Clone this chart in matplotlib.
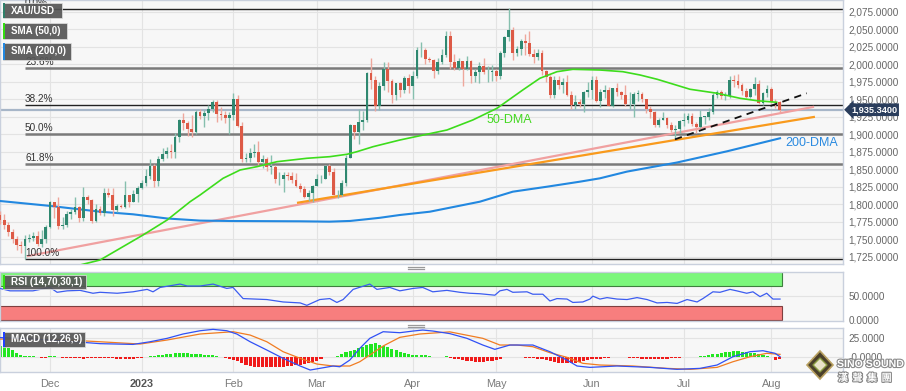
import numpy as np
import pandas as pd
import matplotlib
matplotlib.use('Agg')
import matplotlib.pyplot as plt
from matplotlib.patches import Rectangle, Polygon
import matplotlib.patheffects as pe
import matplotlib.transforms as mtrans

plt.rcParams['font.family'] = ['Liberation Sans', 'DejaVu Sans', 'Noto Sans CJK SC']

# ---------------- DATA ----------------
start_date = '2022-11-15'
end_date = '2023-08-03'

opens = [1785,1778,1770,1760,1750,1742,1741,1750,1752,1755,1743,1750,
         1768,1803,1797,1769,1771,1786,1789,1797,1781,1810,1807,1777,1793,1788,1817,1814,1792,1798,1797,1813,1804,1815,
         1824,1830,1840,1855,1833,1865,1872,1877,1875,1897,1920,1916,1908,1904,1932,1926,1931,1937,1946,1929,1928,1923,
         1928,1950,1912,1865,1867,1873,1875,1861,1865,1854,1854,1836,1836,1842,1841,1835,1826,1822,1811,1817,
         1827,1836,1836,1855,1847,1813,1814,1831,1867,1913,1904,1918,1920,1988,1978,1940,1969,1993,1977,1956,1973,1964,1980,
         1969,1984,2020,2021,2008,2007,1990,2003,2014,2040,2004,1995,2005,1994,2005,1983,1989,1998,1989,1989,
         1990,1983,2017,2039,2049,2017,2022,2034,2030,2015,2011,2017,1990,1982,1957,1978,1971,1975,1957,1942,1946,1943,1960,
         1963,1978,1948,1961,1963,1940,1966,1961,1957,1943,1943,1958,1958,1950,1936,1932,1913,1921,1923,1914,1907,1908,
         1919,1921,1926,1915,1911,1925,1925,1932,1957,1961,1955,1955,1978,1977,1970,1962,1954,1965,1972,1945,1959,
         1965,1947,1946]
highs = [1790,1786,1775,1765,1755,1748,1757,1758,1760,1762,1763,1770,
         1805,1804,1810,1782,1790,1794,1810,1798,1825,1814,1808,1800,1798,1823,1823,1823,1801,1800,1833,1814,1820,1827,
         1835,1850,1865,1858,1869,1881,1882,1886,1902,1922,1930,1919,1928,1935,1937,1935,1942,1949,1949,1939,1933,1932,
         1959,1956,1918,1874,1880,1886,1890,1870,1868,1870,1857,1846,1846,1846,1846,1845,1830,1827,1821,1828,
         1843,1842,1857,1858,1852,1820,1835,1870,1915,1914,1937,1933,1989,2009,1983,1975,2003,2004,1979,1974,1975,1984,1987,
         1990,2025,2032,2024,2011,2008,2009,2022,2048,2048,2015,2009,2005,2012,2006,1994,2003,2009,1998,1999,
         1993,2019,2041,2081,2054,2026,2036,2043,2048,2022,2022,2020,1992,1985,1984,1984,1980,1985,1962,1957,1951,1962,1975,
         1983,1983,1965,1970,1968,1967,1973,1962,1971,1960,1960,1963,1960,1951,1940,1933,1923,1932,1925,1918,1913,1920,
         1930,1930,1930,1918,1935,1927,1938,1959,1963,1964,1961,1983,1985,1987,1973,1966,1966,1982,1978,1960,1970,
         1968,1950,1948]
lows = [1772,1765,1755,1745,1735,1730,1722,1746,1748,1740,1739,1745,
        1767,1781,1765,1765,1768,1779,1786,1775,1777,1800,1773,1775,1785,1783,1810,1784,1789,1795,1795,1796,1803,1804,
        1822,1827,1837,1825,1826,1862,1866,1867,1867,1889,1907,1898,1896,1901,1922,1911,1920,1932,1918,1921,1916,1900,
        1920,1911,1861,1860,1860,1868,1856,1852,1848,1843,1830,1828,1818,1835,1831,1825,1818,1809,1805,1804,
        1826,1830,1836,1842,1813,1809,1812,1827,1866,1894,1886,1907,1918,1965,1934,1935,1963,1960,1945,1949,1954,1959,1959,
        1950,1980,2011,2000,2003,1981,1987,2000,2011,1993,1992,1992,1969,1992,1973,1975,1974,1986,1975,1977,
        1976,1979,2010,2034,2006,2012,2014,2014,2012,2002,2006,1985,1975,1952,1952,1965,1959,1955,1937,1936,1939,1932,1953,
        1951,1947,1939,1952,1940,1939,1955,1950,1940,1936,1925,1948,1947,1931,1924,1911,1910,1920,1909,1903,1893,1902,
        1912,1917,1912,1902,1909,1915,1920,1929,1952,1950,1949,1952,1968,1967,1956,1952,1952,1956,1943,1942,1954,
        1945,1938,1932]
closes = [1778,1770,1760,1750,1742,1741,1750,1752,1755,1743,1750,1768,
          1803,1797,1769,1771,1786,1789,1797,1781,1810,1807,1777,1793,1788,1817,1814,1792,1798,1797,1813,1804,1815,1824,
          1830,1840,1855,1833,1865,1872,1877,1875,1897,1920,1916,1908,1904,1932,1926,1931,1937,1946,1929,1928,1923,1928,
          1950,1912,1865,1867,1873,1875,1861,1865,1854,1854,1836,1836,1842,1841,1835,1826,1822,1811,1817,1827,
          1836,1836,1855,1847,1813,1814,1831,1867,1913,1904,1918,1920,1988,1978,1940,1969,1993,1977,1956,1973,1964,1980,1969,
          1984,2020,2021,2008,2007,1990,2003,2014,2040,2004,1995,2005,1994,2005,1983,1989,1998,1989,1989,1990,
          1983,2017,2039,2049,2017,2022,2034,2030,2015,2011,2017,1990,1982,1957,1978,1971,1975,1957,1942,1946,1943,1960,1963,
          1978,1948,1961,1963,1940,1966,1961,1957,1943,1943,1958,1958,1950,1936,1932,1913,1921,1923,1914,1907,1908,1919,
          1921,1926,1915,1911,1925,1925,1932,1957,1961,1955,1955,1978,1977,1970,1962,1954,1965,1972,1945,1959,1965,
          1947,1946,1935.34]
last_price = 1935.34

# 50-DMA and 200-DMA (position = trading-day index)
sma50_pos = [16.8, 19.2, 24.0, 34.3, 40.1, 45.6, 48.0, 53.5, 57.6, 61.6, 66.4, 73.6, 79.1, 83.2, 85.6, 89.5,
             95.9, 107.2, 113.4, 119.2, 125.4, 129.5, 133.6, 137.4, 143.9, 149.4, 153.5, 157.6, 165.5, 172.0,
             177.5, 181.5, 186.3]
sma50_val = [1708, 1713.6, 1720.7, 1756.4, 1777.9, 1804.0, 1813.6, 1837.4, 1849.3, 1854.0, 1861.1, 1866.0,
             1868.3, 1871.7, 1875.4, 1882.6, 1892.1, 1906.4, 1920.7, 1937.4, 1963.6, 1980.3, 1989.7, 1993.1,
             1992.1, 1989.7, 1985.0, 1978.9, 1964.6, 1958.9, 1951.7, 1948.3, 1946.0]
sma200_pos = [0.0, 12.0, 24.0, 31.9, 40.1, 48.0, 55.9, 72.0, 79.0, 84.0, 88.0, 91.1, 95.9, 103.1, 115.1,
              123.0, 131.2, 139.1, 143.9, 150.4, 162.4, 174.4, 187.1]
sma200_val = [1805, 1798, 1789.7, 1786, 1780, 1777, 1776.4, 1776, 1775.5, 1776.5, 1779, 1781, 1785, 1789.7,
              1804, 1818.3, 1825.4, 1832.6, 1837.4, 1847, 1860, 1876, 1894.6]

# Fibonacci retracement anchors
fib_high = 2079.0
fib_low = 1722.0
fib_start = 6
fib_ratios = [0.0, 0.236, 0.382, 0.5, 0.618, 1.0]
fib_labels = ['0.0%', '23.6%', '38.2%', '50.0%', '61.8%', '100.0%']

# trend lines (position, price)
pink_line = [(6.7, 1726.4), (195.0, 1939.3)]
orange_line = [(71.5, 1802.6), (195.2, 1925.0)]
dashed_line = [(161.9, 1893.1), (193.5, 1958.9)]

# RSI (14)
rsi_pos = [0, 2.4, 7.9, 12, 13.7, 16.1, 19.2, 22.3, 24.0, 28.1, 31.9, 35.3, 36.7, 38.4, 43.2, 44.9, 48.0,
           51.1, 54.4, 55.9, 58.3, 64.0, 67.9, 72.0, 73.6, 76.7, 79.1, 80.8, 82.3, 84.7, 88.0, 88.7, 90.4,
           93.5, 95.9, 99.1, 101.4, 103.8, 107.2, 110.3, 112.7, 115.1, 118.7, 119.9, 121.6, 123.0, 126.4,
           127.8, 130.2, 131.9, 133.6, 136.0, 137.4, 139.8, 141.5, 142.2, 143.9, 145.6, 148.0, 150.4, 152.8,
           155.2, 157.6, 160.0, 162.4, 164.8, 167.2, 168.6, 171.0, 172.7, 175.1, 176.7, 179.1, 180.6, 182.3,
           183.9, 185.4, 187.1]
rsi_val = [66, 61, 61, 68, 58, 61, 62, 56, 58, 56, 59, 64, 59, 68, 75, 71, 71,
           75, 66, 68, 45, 43, 38, 36, 31, 43, 45, 37, 43, 64, 73, 75, 64,
           68, 61, 66, 68, 59, 62, 58, 56, 55, 52, 61, 64, 58, 59,
           54, 54, 40, 45, 44, 37, 38, 44, 50, 44, 47, 44, 43, 47,
           43, 36, 37, 35, 43, 38, 45, 59, 58, 64, 61, 56, 59, 49,
           56, 44, 44]

# MACD (12,26,9)
macd_pos = [0, 12, 24, 31.9, 36.0, 40.1, 43.9, 48.0, 51.1, 54.4, 56.8, 60.0, 64.0, 67.9, 72.0, 74.4, 76.7,
            79.9, 81.5, 83.9, 86.3, 88.7, 91.9, 95.9, 99.1, 101.4, 103.8, 107.9, 112.0, 115.8, 118.7, 122.3,
            127.8, 131.9, 136.0, 138.4, 141.5, 148.0, 155.9, 162.4, 167.9, 172.0, 175.8, 179.9, 183.0, 185.9, 187.1]
macd_val = [26, 23, 18, 17, 20.5, 25, 30.7, 35, 36.8, 35, 30.7, 20.5, 9.6, -1.3, -11.4, -16.7, -14.5,
            -11.4, -12.4, -3.6, 11.8, 25, 33.7, 32.4, 34.6, 35.9, 34.6, 31.2, 25, 16.2, 10.5, 16.2,
            16.2, 7.4, -3.6, -11.4, -13.2, -11.4, -13.2, -15.8, -14.5, -10.1, 0.8, 7.4, 8.7, 5.3, 0.8]
signal_pos = [0, 7.9, 16.1, 24, 33.6, 40.1, 48.0, 55.9, 60.0, 64.0, 67.9, 72.0, 76.0, 79.9, 83.9, 86.3, 88.7,
              91.9, 95.9, 100.7, 107.9, 115.8, 119.9, 124.0, 127.8, 131.9, 136.0, 139.8, 143.9, 151.8, 160.0,
              165.5, 172.0, 175.8, 179.9, 183.9, 187.1]
signal_val = [24, 24, 22.8, 20.5, 17.5, 22.8, 30.7, 33.7, 29.3, 20.5, 7.4, -1.3, -8.8, -11.4, -11.4, -5.8, 3,
              14.9, 26.3, 30.7, 33.5, 25, 16.2, 16.2, 14, 6.1, 0, -7.9, -10.1, -11.4, -14.5,
              -15.8, -13.2, -5.8, 0.8, 5.3, 3.9]
hist_val = [14.5, 14.5, 12.5, 9.2, 5.3, 3.3, 2.0, 1.3, 1.3, 0.7, -0.7, -0.7,
            1.3, 1.3, 0.7, -0.4, -0.4, -0.4, -1.0, -1.3, -1.7, -1.3, -1.3, -1.0, -0.7, -0.7, -0.4, -1.3, -2.0, -2.0,
            -2.0, -2.0, -1.6, -1.3, -0.4, 0.7, 1.3, 2.0, 2.6, 3.3, 3.9, 4.6, 5.3, 5.9, 5.9, 5.3, 4.6, 3.9, 3.9, 3.3,
            3.3, 2.6, 2.0, 1.0, -1.3, -2.6, -3.3, -5.3, -7.9, -10.5, -11.8, -12.5, -13.2, -13.2, -13.2, -13.2,
            -13.2, -13.2, -12.5, -11.8, -11.2, -10.5, -9.9, -9.2, -7.9, -6.6, -4.6, -2.6, 0.7, 0.7, 0.7, 1.3,
            3.9, 6.6, 7.9, 9.2, 11.8, 13.2, 15.8, 17.8, 18.4, 15.8, 14.5, 13.2, 11.2, 9.2, 7.2, 5.9, 4.6, 3.3,
            2.6, 3.3, 3.3, 2.0, 1.0, 0.7, 0.7, 1.3, -0.7, -2.6, -2.6, -3.3, -4.6, -5.3, -5.9, -5.9, -5.9, -5.3,
            -4.6, -3.9, -2.6, 0.7, 0.7, 0.7, 0.4, 0.4, -0.4, -0.7, -1.3, -2.0, -2.6, -3.9, -5.3, -6.6, -7.2,
            -7.9, -7.9, -7.9, -7.2, -6.6, -5.3, -3.9, -2.6, -2.0, -2.0, -1.3, -0.7, 0.4, 0.7, 0.7, 0.4, -0.4,
            -0.7, -1.3, -2.0, -2.6, -2.6, -2.6, -2.6, -2.0, -2.0, -1.3, -0.7, -0.4, 0.4, 0.4, 0.7, 1.0, 1.3,
            2.0, 2.6, 3.9, 4.6, 5.9, 6.6, 7.2, 8.6, 7.9, 7.2, 6.6, 5.9, 5.3, 4.6, 2.6, 1.3, 0.7, -3.9, -2.6]

month_labels = ['Dec', '2023', 'Feb', 'Mar', 'Apr', 'May', 'Jun', 'Jul', 'Aug']
month_starts = ['2022-12-01', '2023-01-01', '2023-02-01', '2023-03-01', '2023-04-01',
                '2023-05-01', '2023-06-01', '2023-07-01', '2023-08-01']

# ---------------- FIGURE ----------------
W, H = 906, 391
fig = plt.figure(figsize=(W / 100, H / 100), dpi=100)
fig.patch.set_facecolor('white')

def fx(px):
    return px / W

def fy(py):
    return 1 - py / H

PANEL_R = 843
XMAX = 202.2
bg = '#f7f7f7'
spine_c = '#c9d0dd'
grid_c = '#e3e3e3'
lab_c = '#666666'

ax = fig.add_axes([0, fy(264), fx(PANEL_R), fy(0) - fy(264)])
ax_r = fig.add_axes([0, fy(321), fx(PANEL_R), fy(271.7) - fy(321)])
ax_m = fig.add_axes([0, fy(371.7), fx(PANEL_R), fy(328.3) - fy(371.7)])

dates = pd.bdate_range(start_date, end_date)
n = len(dates)
xs = np.arange(n)
month_pos = [int(np.searchsorted(dates.values, np.datetime64(m))) for m in month_starts]

for a in (ax, ax_r, ax_m):
    a.set_facecolor(bg)
    a.set_xlim(0, XMAX)
    for s in a.spines.values():
        s.set_color(spine_c)
        s.set_linewidth(1)
    a.yaxis.tick_right()
    a.tick_params(axis='y', length=0, pad=4, labelsize=7.2, labelcolor=lab_c)
    a.tick_params(axis='x', length=0)
    a.set_xticks(month_pos)
    a.grid(True, axis='x', color=grid_c, lw=0.8, zorder=0)
    a.set_axisbelow(True)

# ---- main panel ----
ax.set_ylim(1715.0, 2092.1)
yt = np.arange(1725, 2076, 25)
ax.set_yticks(yt)
ax.set_yticklabels([f'{v:,.4f}' for v in yt])
for v in yt:
    ax.axhline(v, color=grid_c, lw=0.8, zorder=0)
ax.set_xticklabels([])

# fib lines
fib_styles = {0.0: ('#222222', 1.0), 0.236: ('#7a7a7a', 1.8), 0.382: ('#222222', 1.0),
              0.5: ('#7a7a7a', 1.8), 0.618: ('#7a7a7a', 1.8), 1.0: ('#222222', 1.0)}
for r, lab in zip(fib_ratios, fib_labels):
    lvl = fib_high - r * (fib_high - fib_low)
    c, lw = fib_styles[r]
    ax.plot([fib_start, XMAX], [lvl, lvl], color=c, lw=lw, zorder=2, solid_capstyle='butt')
    ax.text(fib_start, lvl + 1.2, lab, fontsize=7.2, color='#333333', ha='left', va='bottom', zorder=6)

# current price line
ax.axhline(last_price, color='#a7b6c8', lw=1.6, zorder=2)

# trend lines
ax.plot(*zip(*pink_line), color='#f0a0a0', lw=1.6, zorder=3)
ax.plot(*zip(*orange_line), color='#f99a1c', lw=1.6, zorder=3)
ax.plot(*zip(*dashed_line), color='#111111', lw=1.3, ls=(0, (4, 3)), zorder=7)

# moving averages
ax.plot(sma200_pos, sma200_val, color='#2288e0', lw=1.5, zorder=3)
ax.plot(sma50_pos, sma50_val, color='#3ddc1c', lw=1.2, zorder=5)

# candles
up_c, dn_c = '#2f8870', '#dd5a46'
up_w, dn_w = '#86bfae', '#eea79c'
o = np.array(opens, float); h = np.array(highs, float)
l = np.array(lows, float); c = np.array(closes, float)
up = c >= o
bw = 0.66
for i in range(n):
    col = up_c if up[i] else dn_c
    wcol = up_w if up[i] else dn_w
    ax.plot([xs[i], xs[i]], [l[i], h[i]], color=wcol, lw=1.0, zorder=4, solid_capstyle='butt')
    lo_b = min(o[i], c[i]); hi_b = max(o[i], c[i])
    ax.add_patch(Rectangle((xs[i] - bw / 2, lo_b), bw, max(hi_b - lo_b, 0.8),
                           facecolor=col, edgecolor='none', zorder=4.5))

ax.text(116.8, 1920.7, '50-DMA', color='#44d822', fontsize=9, ha='left', va='center', zorder=6)
ax.text(188.4, 1887.9, '200-DMA', color='#2a8ae0', fontsize=9, ha='left', va='center', zorder=6)

# price tag
tr = mtrans.blended_transform_factory(ax.transAxes, ax.transData)
ax.text(851 / PANEL_R, last_price, f'{last_price:,.4f}', transform=tr, fontsize=6.6,
        color='white', fontweight='bold', ha='left', va='center', zorder=10, clip_on=False,
        bbox=dict(boxstyle='larrow,pad=0.2', fc='#2a3d5c', ec='none'))

# ---- RSI panel ----
ax_r.set_ylim(-1.4, 100.6)
ax_r.set_yticks([0, 50])
ax_r.set_yticklabels(['0.0000', '50.0000'])
ax_r.set_xticklabels([])
ax_r.axhline(50, color=grid_c, lw=0.8, zorder=0)
band_end = 187.5
ax_r.add_patch(Rectangle((0, 70), band_end, 30, facecolor='#7cf77c', edgecolor='#3f7f3f', lw=0.8, zorder=1))
ax_r.add_patch(Rectangle((0, 0), band_end, 30, facecolor='#f77e7e', edgecolor='#7f3f3f', lw=0.8, zorder=1))
ax_r.plot(rsi_pos, rsi_val, color='#3c5cf0', lw=0.9, zorder=3)

# ---- MACD panel ----
ax_m.set_ylim(-18.9, 38.2)
ax_m.set_yticks([0, 25])
ax_m.set_yticklabels(['-0.0000', '25.0000'])
ax_m.axhline(0, color=grid_c, lw=0.8, zorder=0)
ax_m.axhline(25, color=grid_c, lw=0.8, zorder=0)
hv = np.array(hist_val)
ax_m.bar(xs, hv, width=0.75, color=np.where(hv >= 0, '#22e622', '#f01a1a'), zorder=2)
ax_m.plot(signal_pos, signal_val, color='#f07c22', lw=0.9, zorder=3)
ax_m.plot(macd_pos, macd_val, color='#3050f5', lw=0.9, zorder=4)
ax_m.set_xticklabels(month_labels, fontsize=7.8, color='#7a7a7a')
ax_m.tick_params(axis='x', pad=5)
for t in ax_m.get_xticklabels():
    if t.get_text() == '2023':
        t.set_fontweight('bold')
        t.set_color('#555555')

# ---- legend boxes ----
def legend_box(x0, y0, x1, y1, text, edge):
    fig.patches.append(Rectangle((fx(x0), fy(y1)), fx(x1 - x0), fy(y0) - fy(y1),
                                 transform=fig.transFigure, facecolor='#555555', alpha=0.92,
                                 edgecolor='#dddddd', lw=0.6, zorder=20))
    fig.patches.append(Rectangle((fx(x0), fy(y1)), fx(2), fy(y0) - fy(y1),
                                 transform=fig.transFigure, facecolor=edge, edgecolor='none', zorder=21))
    fig.text(fx(x0 + 8), fy((y0 + y1) / 2), text, color='white', fontsize=7, fontweight='bold',
             ha='left', va='center', zorder=22)

legend_box(3, 3, 62, 18, 'XAU/USD', '#2e7f6a')
legend_box(3, 23, 67, 39, 'SMA (50,0)', '#33dd11')
legend_box(3, 43, 71, 60, 'SMA (200,0)', '#2288e0')
legend_box(3, 275, 86, 289, 'RSI (14,70,30,1)', '#33dd11')
legend_box(3, 332, 85, 347, 'MACD (12,26,9)', '#2040ff')

# panel resize handles
for yy in (266.5, 268.8, 324.5, 326.8):
    fig.add_artist(plt.Line2D([fx(408), fx(424)], [fy(yy), fy(yy)], color='#9a9a9a', lw=0.9,
                              transform=fig.transFigure))

# watermark logo
cx, cy = 820, 365
fig.patches.append(Polygon([(fx(cx), fy(cy - 14)), (fx(cx + 13), fy(cy)), (fx(cx), fy(cy + 14)),
                            (fx(cx - 13), fy(cy))], closed=True, transform=fig.transFigure,
                           facecolor='#4a3f2a', edgecolor='#b8a060', lw=1.2, zorder=20))
fig.patches.append(Polygon([(fx(cx), fy(cy - 7)), (fx(cx + 7), fy(cy)), (fx(cx), fy(cy + 7)),
                            (fx(cx - 7), fy(cy))], closed=True, transform=fig.transFigure,
                           facecolor='#e9e2c8', edgecolor='#8a9a40', lw=1.0, zorder=21))
stroke = [pe.withStroke(linewidth=1.6, foreground='#8a8a8a')]
fig.text(fx(837), fy(364), 'SINO SOUND', color='white', fontsize=7.6, fontweight='bold',
         ha='left', va='center', path_effects=stroke, zorder=22)
fig.text(fx(838), fy(378), '漢  聲  集  團', color='white', fontsize=7.2, fontweight='bold',
         family=['Noto Sans CJK SC', 'DejaVu Sans'], ha='left', va='center',
         path_effects=stroke, zorder=22)

fig.savefig('out.png', dpi=100, facecolor='white')
